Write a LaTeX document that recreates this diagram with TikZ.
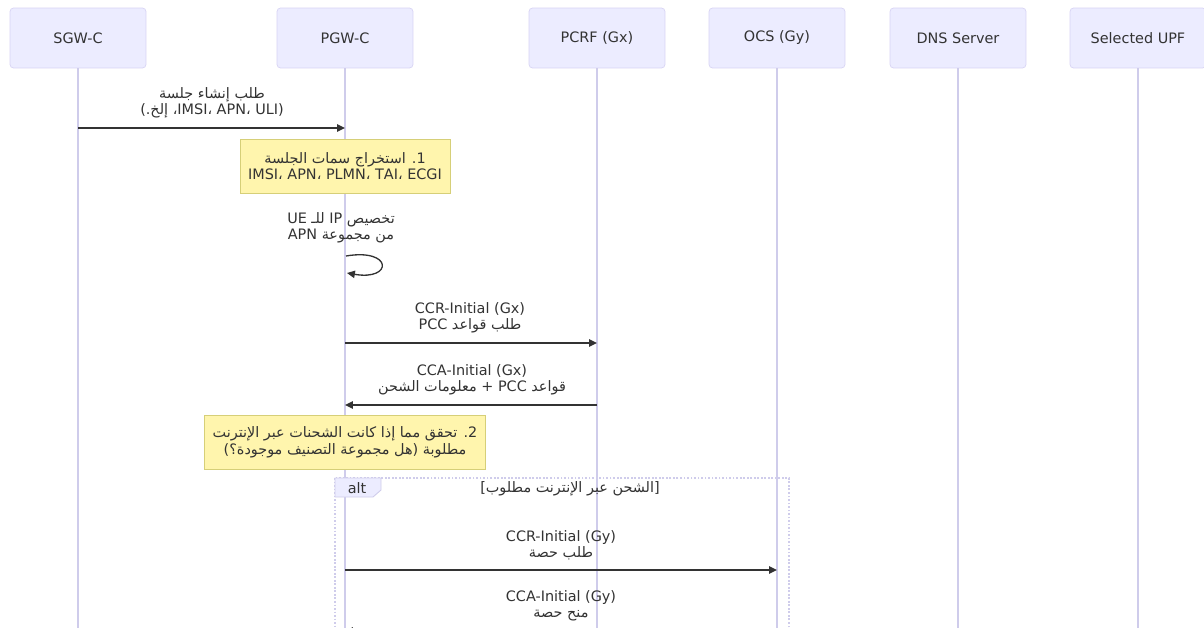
\documentclass[tikz,border=0pt]{standalone}
\usepackage{fontspec}
\setmainfont{DejaVu Sans}
\newfontfamily\arabicfont[Script=Arabic]{DejaVu Sans}
\TeXXeTstate=1
\usetikzlibrary{arrows.meta}
\definecolor{actorfill}{HTML}{ECECFF}
\definecolor{actorline}{HTML}{D8D4F4}
\definecolor{lifeline}{HTML}{CFCCEB}
\definecolor{notefill}{HTML}{FFF5AD}
\definecolor{noteline}{HTML}{D6CF78}
\definecolor{msgtext}{HTML}{333333}
\newcommand{\rtl}[1]{{\arabicfont\beginR #1\endR}}
\begin{document}
\begin{tikzpicture}[
  x=0.02cm, y=-0.02cm,
  actor/.style={rectangle, draw=actorline, fill=actorfill, rounded corners=2pt, minimum width=2.72cm, minimum height=1.2cm, text=msgtext, font=\fontsize{8.2}{9.5}\selectfont},
  life/.style={draw=lifeline, line width=0.6pt},
  msg/.style={draw=msgtext, line width=0.75pt, -{Triangle[length=4.5pt,width=4.2pt]}},
  lbl/.style={align=center, text=msgtext, font=\fontsize{8.2}{9.2}\selectfont},
  note/.style={rectangle, draw=noteline, fill=notefill, align=center, text=msgtext, font=\fontsize{8.2}{9.5}\selectfont, minimum height=1.08cm}
]
\fill[white] (0,0) rectangle (1204,628);
\useasboundingbox (0,0) rectangle (1204,628);

% participants
\node[actor] (sgw) at (78,38) {SGW-C};
\node[actor] (pgw) at (345,38) {PGW-C};
\node[actor] (pcrf) at (597,38) {PCRF (Gx)};
\node[actor] (ocs) at (777,38) {OCS (Gy)};
\node[actor] (dns) at (958,38) {DNS Server};
\node[actor] (upf) at (1138,38) {Selected UPF};

% lifelines
\foreach \p/\x in {sgw/78, pgw/345, pcrf/597, ocs/777, dns/958, upf/1138} {
  \coordinate (\p end) at (\x,660);
  \draw[life] (\p) -- (\p end);
}

% alt frame
\draw[draw=lifeline, line width=0.6pt, dash pattern=on 1pt off 1pt] (335,478) rectangle (789,670);
\draw[draw=lifeline, fill=actorfill, line width=0.5pt] (335,478) -- (381,478) -- (381,490) -- (373,497) -- (335,497) -- cycle;
\node[lbl] (alttag) at (357,488) {alt};
\node[lbl] (altcond) at (570,489) {\rtl{[الشحن عبر الإنترنت مطلوب]}};

% session request
\coordinate (m1s) at (78,128);
\coordinate (m1e) at (345,128);
\node[lbl] (m1) at (212,103) {\rtl{طلب إنشاء جلسة}\\\rtl{(\beginL IMSI، APN، ULI\endL، إلخ.)}};
\draw[msg] (m1s) -- (m1e);

\node[note, minimum width=4.2cm] (n1) at (345,166) {\rtl{1. استخراج سمات الجلسة}\\\rtl{\beginL IMSI، APN، PLMN، TAI، ECGI\endL}};

% IP allocation
\node[lbl] (ip) at (341,228) {\rtl{تخصيص IP للـ UE}\\\rtl{من مجموعة APN}};
\coordinate (s1) at (346,256);
\coordinate (s2) at (347,273);
\draw[msg] (s1) .. controls (393,248) and (393,281) .. (s2);

% Gx
\coordinate (g1s) at (345,343);
\coordinate (g1e) at (597,343);
\node[lbl] (gx1) at (470,318) {CCR-Initial (Gx)\\\rtl{طلب قواعد PCC}};
\draw[msg] (g1s) -- (g1e);

\coordinate (g2s) at (597,405);
\coordinate (g2e) at (345,405);
\node[lbl] (gx2) at (472,380) {CCA-Initial (Gx)\\\rtl{قواعد PCC + معلومات الشحن}};
\draw[msg] (g2s) -- (g2e);

\node[note, minimum width=5.62cm] (n2) at (345,442) {\rtl{2. تحقق مما إذا كانت الشحنات عبر الإنترنت}\\\rtl{مطلوبة (هل مجموعة التصنيف موجودة؟)}};

% Gy
\coordinate (y1s) at (345,570);
\coordinate (y1e) at (777,570);
\node[lbl] (gy1) at (561,545) {CCR-Initial (Gy)\\\rtl{طلب حصة}};
\draw[msg] (y1s) -- (y1e);

\coordinate (y2s) at (777,631);
\coordinate (y2e) at (345,631);
\node[lbl] (gy2) at (561,606) {CCA-Initial (Gy)\\\rtl{منح حصة}};
\draw[msg] (y2s) -- (y2e);
\end{tikzpicture}
\end{document}
